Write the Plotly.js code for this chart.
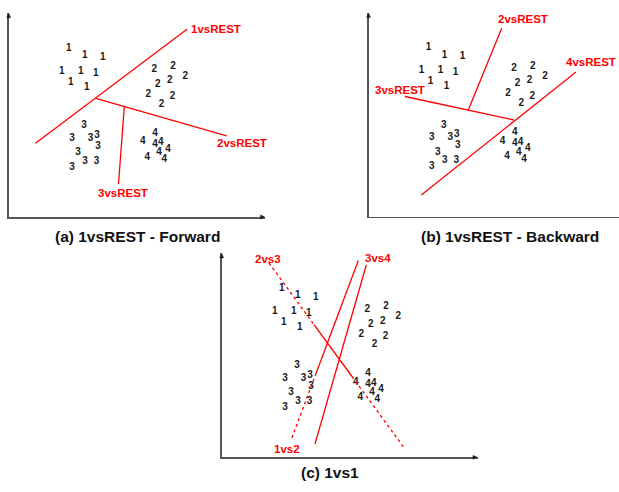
<!DOCTYPE html>
<html>
<head>
<meta charset="utf-8">
<script src="https://cdn.plot.ly/plotly-3.0.1.min.js"></script>
<style>
  html, body { margin: 0; padding: 0; background: #fff; }
  #chart { width: 619px; height: 492px; }
</style>
</head>
<body>
<div id="chart"></div>
<script>
// Four toy classes in a 2-D feature space (same sample in every panel)
const classNames = ['1', '2', '3', '4'];
const class1X = [60, 76, 94, 53, 72, 87, 62, 78];
const class1Y = [169, 161.5, 160, 146, 146, 144, 135, 130];
const class2X = [145.6, 164.3, 176.6, 149.1, 161.1, 139.6, 163.8, 152.8];
const class2Y = [147.7, 150.5, 140.3, 132.7, 136.2, 123, 120.5, 113];
const class3X = [75.3, 63.3, 81.8, 88.3, 89.3, 69.3, 76.3, 87.8, 63.3];
const class3Y = [91.5, 79, 79, 82, 71, 64.5, 56, 56, 50];
const class4X = [146.3, 134.1, 146.3, 152.1, 159.3, 150.3, 138.6, 155.6];
const class4Y = [84, 75.2, 73, 74.2, 67.8, 64.3, 59.7, 57.3];

// (a) one-vs-rest, forward order: decision boundaries
const fwd1vsRestX = [26.8, 178.3];
const fwd1vsRestY = [73.7, 187.7];
const fwd2vsRestX = [87, 218];
const fwd2vsRestY = [118.7, 81.2];
const fwd3vsRestX = [115.6, 109.8];
const fwd3vsRestY = [110.3, 33];

// (b) one-vs-rest, backward order
const bwd4vsRestX = [52.8, 207.5];
const bwd4vsRestY = [21.7, 144.7];
const bwd3vsRestX = [36.5, 145.5];
const bwd3vsRestY = [120.2, 96.7];
const bwd2vsRestX = [133.2, 99.8];
const bwd2vsRestY = [188.4, 106.7];

// (c) one-vs-one: full pairwise lines, split into the part that is
// actually used (solid) and the unused extension (dotted)
const ovo2vs3X = [47.3, 92.3, 130.3, 181.6];
const ovo2vs3Y = [194.3, 132.7, 80.8, 10.6];
const ovo1vs2X = [136.6, 94.4, 70];
const ovo1vs2Y = [196.8, 84, 19];
const ovo3vs4X = [144.6, 93.3];
const ovo3vs4Y = [192.3, 13.3];

// boundary names and panel captions
const boundaryNames = ['1vsREST', '2vsREST', '3vsREST', '4vsREST', '1vs2', '2vs3', '3vs4'];
const captions = ['(a) 1vsREST - Forward', '(b) 1vsREST - Backward', '(c) 1vs1'];

const W = 619, H = 492;
const FONT = 'Liberation Sans, Arial, sans-serif';
const RED = '#ff0000';

// pixel frame of each panel: axis origin and axis lengths
const panels = [
  {xa: 'x',  ya: 'y',  ox: 8.7,   oy: 217,   lx: 256.5, ly: 204, arrowX: true},
  {xa: 'x2', ya: 'y2', ox: 368.5, oy: 216.7, lx: W - 368.5, ly: 204, arrowX: false},
  {xa: 'x3', ya: 'y3', ox: 221.7, oy: 457.3, lx: 256,   ly: 204, arrowX: true}
];

const classX = [class1X, class2X, class3X, class4X];
const classY = [class1Y, class2Y, class3Y, class4Y];

const traces = [];
const annotations = [];

panels.forEach(p => {
  // class digits
  const xs = [], ys = [], ts = [];
  classX.forEach((cx, k) => {
    cx.forEach((v, i) => { xs.push(v); ys.push(classY[k][i]); ts.push(classNames[k]); });
  });
  traces.push({
    type: 'scatter', mode: 'text', x: xs, y: ys, text: ts,
    textposition: 'middle center', cliponaxis: false,
    textfont: {family: FONT, size: 10, weight: 'bold', color: '#1a1a1a'},
    xaxis: p.xa, yaxis: p.ya, hoverinfo: 'skip', showlegend: false
  });
  // axis arrowheads
  annotations.push({
    xref: p.xa, yref: p.ya, x: 0, y: p.ly, ax: 0, ay: 7, text: '',
    showarrow: true, arrowhead: 2, arrowsize: 0.8, arrowwidth: 1.2, arrowcolor: '#222'
  });
  if (p.arrowX) {
    annotations.push({
      xref: p.xa, yref: p.ya, x: p.lx, y: 0, ax: -7, ay: 0, text: '',
      showarrow: true, arrowhead: 2, arrowsize: 0.8, arrowwidth: 1.2, arrowcolor: '#222'
    });
  }
});

function seg(x, y, xa, ya, dash) {
  traces.push({
    type: 'scatter', mode: 'lines', x: x, y: y, xaxis: xa, yaxis: ya,
    line: {color: RED, width: 1.3, dash: dash || 'solid'},
    hoverinfo: 'skip', showlegend: false, cliponaxis: false
  });
}

// (a)
seg(fwd1vsRestX, fwd1vsRestY, 'x', 'y');
seg(fwd2vsRestX, fwd2vsRestY, 'x', 'y');
seg(fwd3vsRestX, fwd3vsRestY, 'x', 'y');
// (b)
seg(bwd4vsRestX, bwd4vsRestY, 'x2', 'y2');
seg(bwd3vsRestX, bwd3vsRestY, 'x2', 'y2');
seg(bwd2vsRestX, bwd2vsRestY, 'x2', 'y2');
// (c)
seg(ovo2vs3X.slice(0, 2), ovo2vs3Y.slice(0, 2), 'x3', 'y3', 'dot');
seg(ovo2vs3X.slice(1, 3), ovo2vs3Y.slice(1, 3), 'x3', 'y3');
seg(ovo2vs3X.slice(2, 4), ovo2vs3Y.slice(2, 4), 'x3', 'y3', 'dot');
seg(ovo1vs2X.slice(0, 2), ovo1vs2Y.slice(0, 2), 'x3', 'y3');
seg(ovo1vs2X.slice(1, 3), ovo1vs2Y.slice(1, 3), 'x3', 'y3', 'dot');
seg(ovo3vs4X, ovo3vs4Y, 'x3', 'y3');

// boundary labels
function lab(text, xa, ya, x, y, anchor, xref) {
  annotations.push({
    xref: xref || xa, yref: ya, x: x, y: y, text: text, showarrow: false,
    xanchor: anchor || 'left', yanchor: 'middle',
    font: {family: FONT, size: 11.5, weight: 'bold', color: RED}
  });
}
lab(boundaryNames[0], 'x', 'y', fwd1vsRestX[1] + 2.3, fwd1vsRestY[1] + 0.3);
lab(boundaryNames[1], 'x', 'y', 206.6, 74.3);
lab(boundaryNames[2], 'x', 'y', 114.6, 23.7, 'center');
lab(boundaryNames[1], 'x2', 'y2', 127.5, 197.7);
lab(boundaryNames[2], 'x2', 'y2', 4.8, 126.7);
// right-aligned to the page edge so the whole word stays visible
lab(boundaryNames[3], 'x2', 'y2', 1 - 1 / W, 154.4, 'right', 'paper');
lab(boundaryNames[5], 'x3', 'y3', 31, 198.3);
lab(boundaryNames[6], 'x3', 'y3', 141.6, 199.3);
lab(boundaryNames[4], 'x3', 'y3', 50, 8);

// captions
const capPos = [[137, 236], [510, 236], [329.7, 472.3]];
captions.forEach((c, i) => {
  annotations.push({
    xref: 'paper', yref: 'paper', x: capPos[i][0] / W, y: 1 - capPos[i][1] / H,
    text: c, showarrow: false, xanchor: 'center', yanchor: 'middle',
    font: {family: FONT, size: 15.5, weight: 'bold', color: '#111'}
  });
});

function axisPair(p) {
  const common = {
    showline: true, linecolor: '#555', linewidth: 1.5, showgrid: false,
    zeroline: false, showticklabels: false, ticks: '', fixedrange: true
  };
  const xa = Object.assign({}, common, {
    domain: [p.ox / W, Math.min(1, (p.ox + p.lx) / W)], range: [0, p.lx],
    anchor: p.ya
  });
  const ya = Object.assign({}, common, {
    domain: [1 - p.oy / H, 1 - (p.oy - p.ly) / H], range: [0, p.ly],
    anchor: p.xa
  });
  return [xa, ya];
}

const layout = {
  width: W, height: H,
  margin: {l: 0, r: 0, t: 0, b: 0},
  paper_bgcolor: '#ffffff', plot_bgcolor: 'rgba(0,0,0,0)',
  showlegend: false, hovermode: false,
  annotations: annotations
};
const names = [['xaxis', 'yaxis'], ['xaxis2', 'yaxis2'], ['xaxis3', 'yaxis3']];
panels.forEach((p, i) => {
  const [xa, ya] = axisPair(p);
  layout[names[i][0]] = xa;
  layout[names[i][1]] = ya;
});

Plotly.newPlot('chart', traces, layout, {staticPlot: true, displayModeBar: false});
</script>
</body>
</html>
